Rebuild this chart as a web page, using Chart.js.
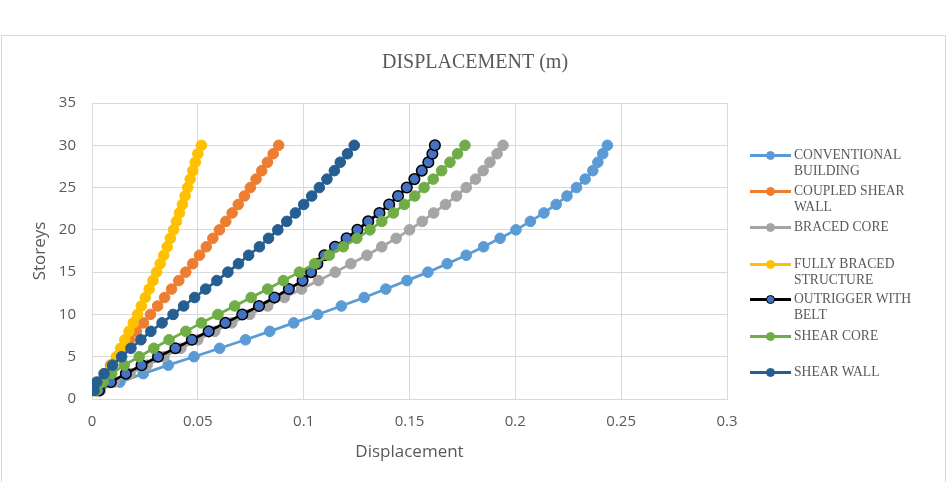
<!DOCTYPE html>
<html><head><meta charset="utf-8">
<script src="https://cdn.jsdelivr.net/npm/chart.js@4.4.1/dist/chart.umd.min.js"></script>
<style>
html,body{margin:0;padding:0;background:#fff;}
#wrap{position:relative;width:950px;height:482px;overflow:hidden;background:#fff;}
#frame{position:absolute;left:1px;top:35px;width:945px;height:470px;border:1px solid #d9d9d9;box-sizing:border-box;}
#c{position:absolute;left:0;top:0;width:950px;height:482px;}
#legend{position:absolute;left:750px;top:0;width:200px;height:482px;}
.li{position:absolute;left:0;width:200px;}
.mk{position:absolute;left:0;width:41px;height:3px;}
.dot{position:absolute;left:16px;width:9px;height:9px;border-radius:50%;box-sizing:border-box;}
.tx{position:absolute;left:44px;width:140px;font-family:'Liberation Serif',serif;font-size:13.6px;line-height:15.7px;color:#595959;}
</style></head>
<body><div id="wrap"><div id="frame"></div><canvas id="c" width="950" height="482"></canvas><div id="legend"></div></div>
<script>
const storeys = [1,2,3,4,5,6,7,8,9,10,11,12,13,14,15,16,17,18,19,20,21,22,23,24,25,26,27,28,29,30];

const conventionalBuilding = [0.003,0.0132,0.0242,0.036,0.0482,0.0603,0.0725,0.084,0.0953,0.1066,0.1178,0.1286,0.1388,0.1488,0.1587,0.1678,0.1768,0.185,0.1928,0.2003,0.2071,0.2135,0.2193,0.2244,0.2289,0.233,0.2366,0.239,0.2413,0.2435];
const coupledShearWall = [0.0015,0.0035,0.006,0.0088,0.0118,0.0148,0.0178,0.021,0.0243,0.0276,0.031,0.0343,0.0376,0.041,0.0443,0.0476,0.0508,0.054,0.0571,0.0602,0.0632,0.0662,0.0691,0.072,0.0748,0.0775,0.0802,0.0829,0.0856,0.0882];
const bracedCore = [0.004,0.0105,0.018,0.026,0.034,0.042,0.05,0.058,0.066,0.0745,0.083,0.0909,0.099,0.107,0.1149,0.1223,0.1299,0.1369,0.1437,0.15,0.156,0.1614,0.167,0.1722,0.1768,0.1812,0.1848,0.188,0.1914,0.1942];
const fullyBracedStructure = [0.002,0.0045,0.007,0.0093,0.0115,0.0135,0.0155,0.0175,0.0195,0.0215,0.0233,0.0252,0.027,0.0288,0.0305,0.0322,0.0339,0.0355,0.037,0.0385,0.0399,0.0413,0.0427,0.044,0.0452,0.0464,0.0476,0.0488,0.05,0.0517];
const outriggerWithBelt = [0.0033,0.0089,0.016,0.0234,0.0312,0.0394,0.0472,0.0551,0.063,0.071,0.0789,0.0862,0.093,0.0995,0.1035,0.1065,0.1098,0.1148,0.1203,0.1254,0.1305,0.1358,0.1404,0.1446,0.1487,0.1523,0.1558,0.1589,0.1608,0.162];
const shearCore = [0.002,0.0053,0.0093,0.0152,0.0223,0.0292,0.0364,0.0443,0.0517,0.0595,0.0674,0.0752,0.083,0.0904,0.098,0.1052,0.1121,0.1187,0.1251,0.1313,0.1369,0.1424,0.1476,0.1525,0.1569,0.1612,0.1652,0.1691,0.1727,0.1762];
const shearWall = [0.001,0.0022,0.0057,0.0097,0.014,0.0184,0.0231,0.0278,0.0331,0.0383,0.0433,0.0485,0.0537,0.059,0.0642,0.0692,0.074,0.0791,0.0834,0.0878,0.092,0.0961,0.1,0.1038,0.1074,0.111,0.1145,0.1173,0.1207,0.1239];

const seriesNames = ['CONVENTIONAL BUILDING','COUPLED SHEAR WALL','BRACED CORE','FULLY BRACED STRUCTURE','OUTRIGGER WITH BELT','SHEAR CORE','SHEAR WALL'];
const seriesValues = [conventionalBuilding, coupledShearWall, bracedCore, fullyBracedStructure, outriggerWithBelt, shearCore, shearWall];
const lineColors = ['#5B9BD5','#ED7D31','#A5A5A5','#FFC000','#000000','#70AD47','#255E91'];
const markerColors = ['#5B9BD5','#ED7D31','#A5A5A5','#FFC000','#4472C4','#70AD47','#255E91'];
const markerBorders = ['#5B9BD5','#ED7D31','#A5A5A5','#FFC000','#000000','#70AD47','#255E91'];

const xTickLabels = ['0','0.05','0.1','0.15','0.2','0.25','0.3'];
const yTickLabels = ['0','5','10','15','20','25','30','35'];

const chartTitle = 'DISPLACEMENT (m)';
const xTitle = 'Displacement';
const yTitle = 'Storeys';

const datasets = seriesNames.map((name, i) => ({
  label: name,
  data: seriesValues[i].map((v, k) => ({x: v, y: storeys[k]})),
  showLine: true,
  borderColor: lineColors[i],
  borderWidth: 2.75,
  backgroundColor: markerColors[i],
  pointBackgroundColor: markerColors[i],
  pointBorderColor: markerBorders[i],
  pointBorderWidth: i === 4 ? 1.5 : 1,
  pointRadius: 5.3,
  pointHoverRadius: 5.3,
  order: seriesNames.length - 1 - i
}));

const tickFont = {family: "'Open Sans', sans-serif", size: 15};
const titleFont = {family: "'Open Sans', sans-serif", size: 17};

new Chart(document.getElementById('c'), {
  type: 'scatter',
  data: {datasets},
  options: {
    responsive: false,
    animation: false,
    layout: {padding: {left: 0, right: 0, top: 0, bottom: 0}},
    plugins: {
      legend: {display: false},
      tooltip: {enabled: false},
      title: {
        display: true,
        text: chartTitle,
        color: '#595959',
        font: {family: "'Liberation Serif', serif", size: 20, weight: 'normal', lineHeight: 1.2},
        padding: {top: 51, bottom: 28},
        align: 'center'
      }
    },
    scales: {
      x: {
        type: 'linear',
        min: 0, max: 0.3,
        afterFit: s => { s.height = 83; },
        ticks: {stepSize: 0.05, color: '#595959', font: tickFont, padding: 14,
          callback: (v, i) => xTickLabels[i] !== undefined ? xTickLabels[i] : String(v)},
        grid: {color: '#d9d9d9', lineWidth: 1, drawTicks: false},
        border: {color: '#d9d9d9', width: 1},
        title: {display: true, text: xTitle, color: '#595959', font: titleFont, padding: {top: 0, bottom: 20}}
      },
      y: {
        type: 'linear',
        min: 0, max: 35,
        afterFit: s => { s.width = 92; },
        ticks: {stepSize: 5, color: '#595959', font: tickFont, padding: 16,
          callback: (v, i) => yTickLabels[i] !== undefined ? yTickLabels[i] : String(v)},
        grid: {color: '#d9d9d9', lineWidth: 1, drawTicks: false},
        border: {color: '#d9d9d9', width: 1},
        title: {display: true, text: yTitle, color: '#595959', font: titleFont, padding: {top: 30, bottom: 0}}
      },
      legendSpace: {
        type: 'linear',
        position: 'right',
        display: true,
        afterFit: s => { s.width = 223; },
        ticks: {display: false},
        grid: {display: false, drawOnChartArea: false, drawTicks: false},
        border: {display: false}
      }
    }
  }
});

// HTML legend
const legendRows = [155, 191, 227, 264, 299, 336, 372];
const lg = document.getElementById('legend');
seriesNames.forEach((name, i) => {
  const li = document.createElement('div');
  li.className = 'li';
  li.style.top = (legendRows[i] - 8) + 'px';
  const mk = document.createElement('div');
  mk.className = 'mk';
  mk.style.top = '6.5px';
  mk.style.background = lineColors[i];
  const dot = document.createElement('div');
  dot.className = 'dot';
  dot.style.top = '3.5px';
  dot.style.background = markerColors[i];
  dot.style.border = (i === 4 ? '1.5px' : '1px') + ' solid ' + markerBorders[i];
  const tx = document.createElement('div');
  tx.className = 'tx';
  tx.style.top = '0px';
  tx.textContent = name;
  li.appendChild(mk); li.appendChild(dot); li.appendChild(tx);
  lg.appendChild(li);
});
</script>
</body></html>
